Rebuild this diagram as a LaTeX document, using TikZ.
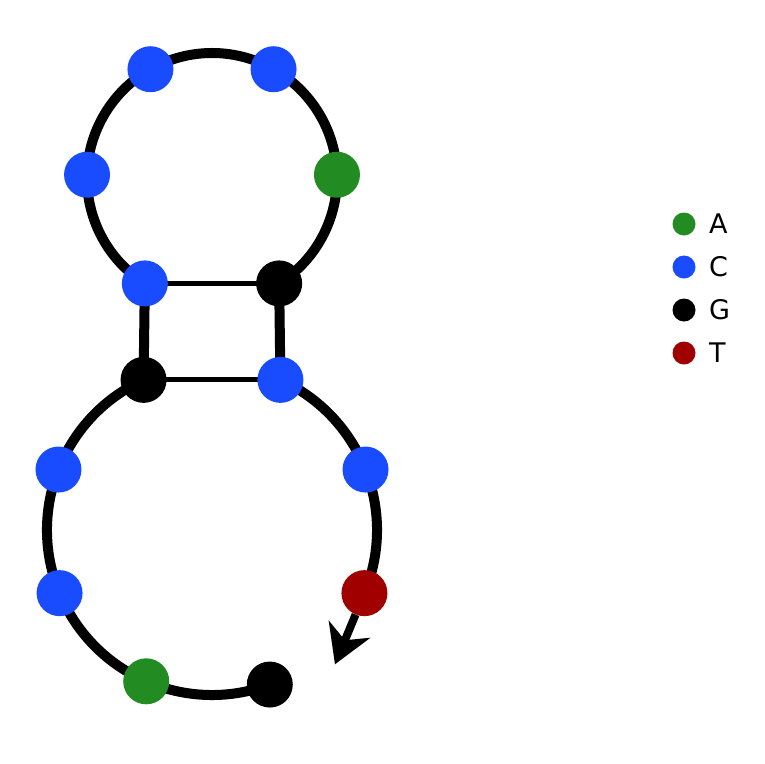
\documentclass[tikz,border=0pt]{standalone}
\usepackage{fontspec}
\setmainfont{DejaVu Sans}
\usetikzlibrary{arrows.meta}
\definecolor{nA}{RGB}{34,139,34}
\definecolor{nC}{RGB}{26,76,255}
\definecolor{nG}{RGB}{0,0,0}
\definecolor{nT}{RGB}{160,0,0}
\pgfdeclarelayer{background}
\pgfsetlayers{background,main}
\tikzset{
  base/.style={circle,inner sep=0pt,minimum size=46pt,draw=none},
  dA/.style={base,fill=nA}, dC/.style={base,fill=nC},
  dG/.style={base,fill=nG}, dT/.style={base,fill=nT},
  bb/.style={line width=10pt,black},
  pair/.style={line width=5pt,black},
  ldot/.style={circle,inner sep=0pt,minimum size=23pt,draw=none},
  ltext/.style={anchor=west,inner sep=0pt,font=\fontsize{27}{31}\selectfont}
}
\begin{document}
\begin{tikzpicture}[x=1pt,y=-1pt]
\useasboundingbox (0,0) rectangle (764,764);
\coordinate (CT) at (212,178);
\coordinate (CB) at (212,530);
% top loop
\node[dC] (t1) at ([shift={(122.5:125)}]CT) {};
\node[dC] (t2) at ([shift={(181.5:125)}]CT) {};
\node[dC] (t3) at ([shift={(240.5:125)}]CT) {};
\node[dC] (t4) at ([shift={(299.5:125)}]CT) {};
\node[dA] (t5) at ([shift={(358.5:125)}]CT) {};
\node[dG] (t6) at ([shift={(417.5:125)}]CT) {};
% bottom loop
\node[dG] (b1) at ([shift={(245.5:165)}]CB) {};
\node[dC] (l2) at ([shift={(201.5:165)}]CB) {};
\node[dC] (l3) at ([shift={(157.5:165)}]CB) {};
\node[dA] (l4) at ([shift={(113.5:165)}]CB) {};
\node[dG] (l5) at ([shift={(69.5:165)}]CB) {};
\node[dC] (b2) at ([shift={(294.5:165)}]CB) {};
\node[dC] (r2) at ([shift={(338.5:165)}]CB) {};
\node[dT] (r3) at ([shift={(382.5:165)}]CB) {};
\coordinate (tip) at ([shift={(112.5:77)}]r3.center);
\begin{pgfonlayer}{background}
\draw[bb] (t1.center) arc[start angle=122.5,end angle=417.5,radius=125];
\draw[bb] (b1.center) arc[start angle=245.5,end angle=69.5,radius=165];
\draw[bb] (b2.center) arc[start angle=294.5,end angle=382.5,radius=165];
\draw[bb] (t1.center) -- (b1.center);
\draw[bb] (t6.center) -- (b2.center);
\draw[pair] (t1.center) -- (t6.center);
\draw[pair] (b1.center) -- (b2.center);
\end{pgfonlayer}
\draw[line width=8pt,-{Stealth[length=38pt,width=45pt,inset=12pt,line width=3.5pt]}] (r3) -- (tip);
% legend
\node[ldot,fill=nA] (kA) at (684,224) {};
\node[ldot,fill=nC] (kC) at (684,267) {};
\node[ldot,fill=nG] (kG) at (684,310) {};
\node[ldot,fill=nT] (kT) at (684,353) {};
\node[ltext] (tA) at (709,224) {A};
\node[ltext] (tC) at (709,267) {C};
\node[ltext] (tG) at (709,310) {G};
\node[ltext] (tT) at (709,353) {T};
\end{tikzpicture}
\end{document}
